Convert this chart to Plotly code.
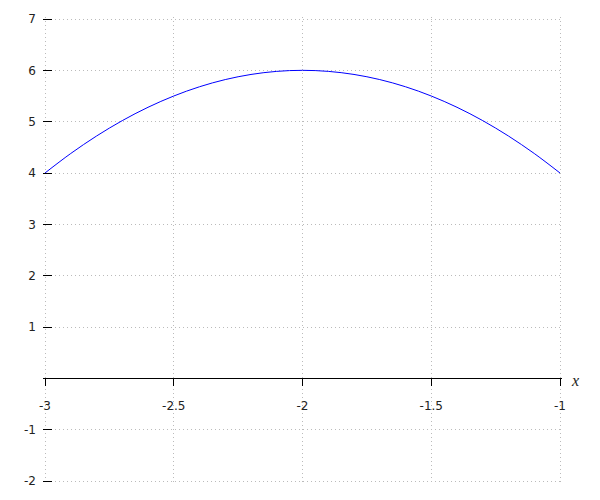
import plotly.graph_objects as go

x_vals = [-3.0, -2.9, -2.8, -2.7, -2.6, -2.5, -2.4, -2.3, -2.2, -2.1, -2.0,
          -1.9, -1.8, -1.7, -1.6, -1.5, -1.4, -1.3, -1.2, -1.1, -1.0]
y_vals = [4.0, 4.38, 4.72, 5.02, 5.28, 5.5, 5.68, 5.82, 5.92, 5.98, 6.0,
          5.98, 5.92, 5.82, 5.68, 5.5, 5.28, 5.02, 4.72, 4.38, 4.0]
x_ticks = [-3, -2.5, -2, -1.5, -1]
x_tick_labels = ["-3", "-2.5", "-2", "-1.5", "-1"]
y_ticks = [-2, -1, 1, 2, 3, 4, 5, 6, 7]
y_tick_labels = ["-2", "-1", "1", "2", "3", "4", "5", "6", "7"]

# 2px of padding around the data ranges so edge grid lines/ticks are drawn
PAD_PX = 2
y_ppu = 462 / 9.0
x_ppu = 515 / 2.0
y_min, y_max = -2 - PAD_PX / y_ppu, 7 + PAD_PX / y_ppu
x_min, x_max = -3 - PAD_PX / x_ppu, -1 + PAD_PX / x_ppu

fig = go.Figure()
fig.add_trace(go.Scatter(x=x_vals, y=y_vals, mode="lines", line=dict(color="blue", width=1, shape="spline"),
                         hoverinfo="skip", showlegend=False))

fig.update_layout(
    width=600, height=500,
    margin=dict(l=45 - PAD_PX, r=40 - PAD_PX, t=19 - PAD_PX, b=19 - PAD_PX),
    paper_bgcolor="white", plot_bgcolor="white",
    font=dict(family="DejaVu Sans", size=12, color="#222"),
    xaxis=dict(
        range=[x_min, x_max], tickvals=x_ticks, ticktext=x_tick_labels,
        showgrid=True, gridcolor="#bbbbbb", griddash="1px,3px", gridwidth=1,
        showline=True, linecolor="black", linewidth=1,
        ticks="outside", ticklen=7, tickcolor="black", tickwidth=1,
        anchor="free", position=(0 - y_min) / (y_max - y_min),
        zeroline=False, ticklabelstandoff=9, automargin=False,
    ),
    yaxis=dict(
        range=[y_min, y_max], tickvals=y_ticks, ticktext=y_tick_labels,
        showgrid=True, gridcolor="#bbbbbb", griddash="1px,3px", gridwidth=1,
        showline=False, zeroline=False,
        ticks="inside", ticklen=9, tickcolor="black", tickwidth=1,
        ticklabelstandoff=6, automargin=False,
    ),
    annotations=[dict(text="x", xref="x", yref="y", x=-1, y=0, xanchor="left", yanchor="middle",
                      xshift=9, yshift=-2, showarrow=False,
                      font=dict(family="Liberation Serif", size=16, color="#222", style="italic"))],
)
fig.write_html("out.html", config={"displayModeBar": False},
               post_script="document.body.style.margin='0';document.body.style.padding='0';")
